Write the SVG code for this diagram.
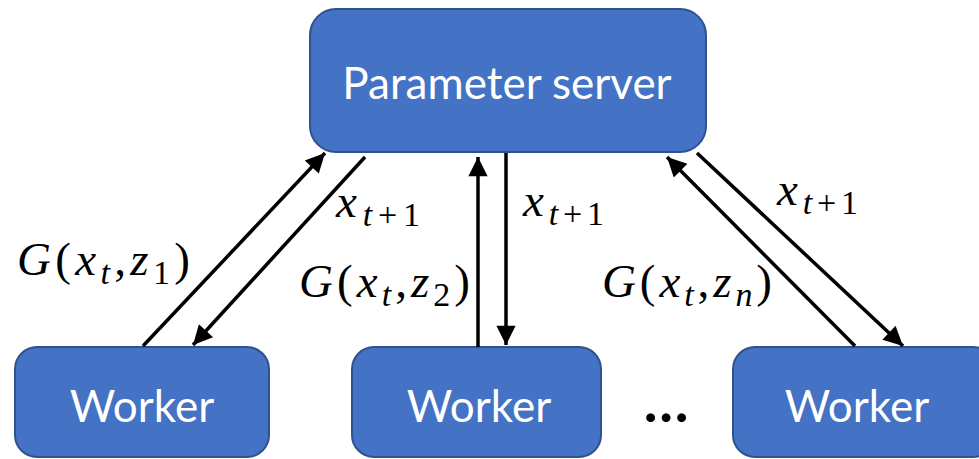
<svg xmlns="http://www.w3.org/2000/svg" width="979" height="459" viewBox="0 0 979 459">
<defs>
<style>
.box{fill:#4472C4;stroke:#2F528F;stroke-width:2}
.lbl{font-family:Lato,"Open Sans",sans-serif;font-size:44px;fill:#fff;text-anchor:middle}
.m{font-family:"Liberation Serif",serif;font-style:italic;font-size:47px;fill:#000}
.s{font-size:34px}
.n{font-style:normal}
.c{stroke:#000;stroke-width:3.5;fill:none;marker-end:url(#ah)}
</style>
<marker id="ah" viewBox="0 0 10 10" refX="10" refY="5" markerWidth="6.5" markerHeight="5.5" orient="auto" markerUnits="strokeWidth">
<path d="M0,0 L10,5 L0,10 z" fill="#000"/>
</marker>
</defs>
<g id="server"><rect class="box" x="310" y="9" width="396" height="143" rx="26"/><text class="lbl" x="507" y="99">Parameter server</text></g>
<g id="worker1"><rect class="box" x="15" y="347" width="254" height="110" rx="22"/><text class="lbl" x="142" y="422">Worker</text></g>
<g id="worker2"><rect class="box" x="352" y="347" width="249" height="110" rx="22"/><text class="lbl" x="479" y="422">Worker</text></g>
<g id="worker3"><rect class="box" x="733" y="347" width="262" height="110" rx="22"/><text class="lbl" x="857" y="422">Worker</text></g>
<g id="connectors">
<line class="c" x1="143" y1="346" x2="325" y2="153"/>
<line class="c" x1="365" y1="157" x2="193" y2="345"/>
<line class="c" x1="478" y1="347" x2="478" y2="157"/>
<line class="c" x1="506" y1="153" x2="506" y2="345"/>
<line class="c" x1="855" y1="346" x2="667" y2="157"/>
<line class="c" x1="697" y1="153" x2="903" y2="346"/>
</g>
<g id="labels">
<text class="m" x="17" y="275" textLength="173" lengthAdjust="spacing">G<tspan class="n">(</tspan>x<tspan class="s" dy="9">t</tspan><tspan dy="-9" class="n">,</tspan>z<tspan class="s n" dy="9">1</tspan><tspan class="n" dy="-9">)</tspan></text>
<text class="m" x="336" y="217" textLength="84" lengthAdjust="spacing">x<tspan class="s" dy="9">t</tspan><tspan class="s n">+1</tspan></text>
<text class="m" x="299" y="297" textLength="171" lengthAdjust="spacing">G<tspan class="n">(</tspan>x<tspan class="s" dy="9">t</tspan><tspan dy="-9" class="n">,</tspan>z<tspan class="s n" dy="9">2</tspan><tspan class="n" dy="-9">)</tspan></text>
<text class="m" x="523" y="216" textLength="81" lengthAdjust="spacing">x<tspan class="s" dy="9">t</tspan><tspan class="s n">+1</tspan></text>
<text class="m" x="602" y="297" textLength="170" lengthAdjust="spacing">G<tspan class="n">(</tspan>x<tspan class="s" dy="9">t</tspan><tspan dy="-9" class="n">,</tspan>z<tspan class="s" dy="9">n</tspan><tspan class="n" dy="-9">)</tspan></text>
<text class="m" x="777" y="205" textLength="81" lengthAdjust="spacing">x<tspan class="s" dy="9">t</tspan><tspan class="s n">+1</tspan></text>
<text x="666" y="422" style="font-family:Lato,sans-serif;font-size:58px;font-weight:bold;text-anchor:middle">…</text>
</g>
</svg>
